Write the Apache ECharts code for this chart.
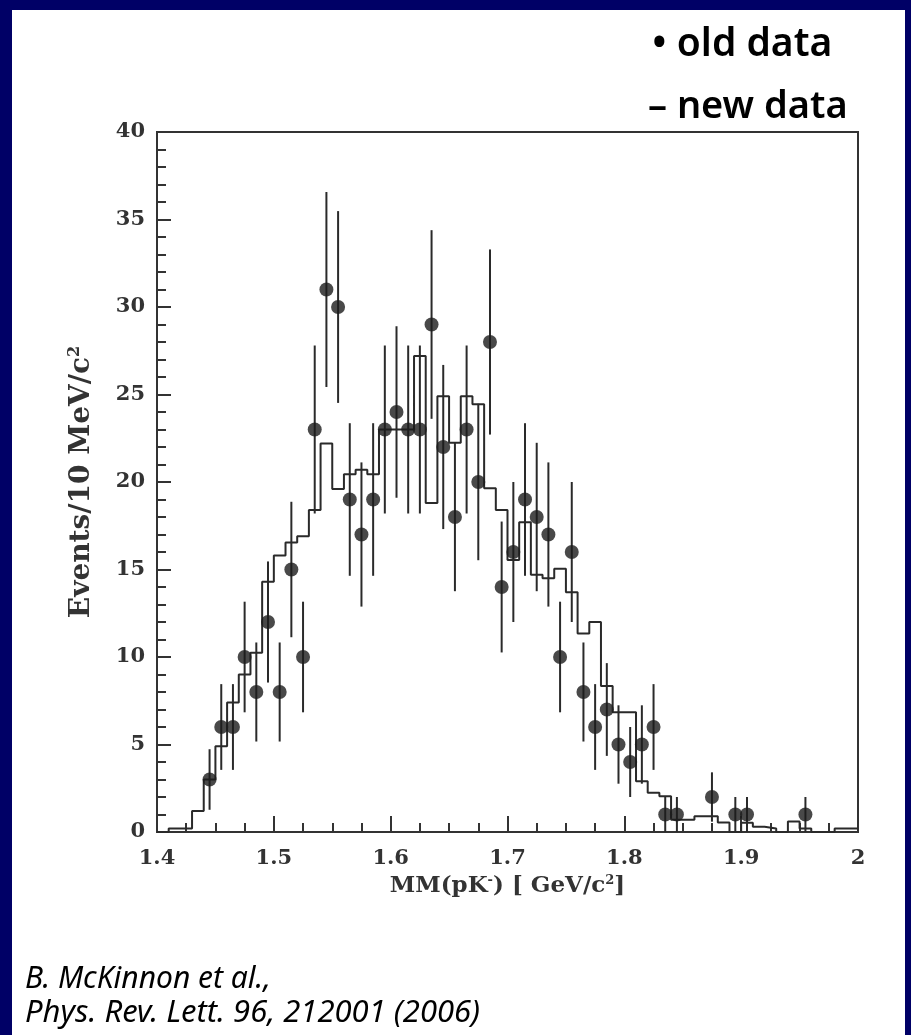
<!DOCTYPE html>
<html><head><meta charset="utf-8">
<script src="https://cdn.jsdelivr.net/npm/echarts@6/dist/echarts.min.js"></script>
<style>html,body{margin:0;padding:0;background:#000066;overflow:hidden}#c{width:911px;height:1035px}</style>
</head><body><div id="c"></div>
<script>
// new data histogram: bin lower edges (10 MeV bins) and contents
const binStart = [1.40,1.41,1.42,1.43,1.44,1.45,1.46,1.47,1.48,1.49,
  1.50,1.51,1.52,1.53,1.54,1.55,1.56,1.57,1.58,1.59,
  1.60,1.61,1.62,1.63,1.64,1.65,1.66,1.67,1.68,1.69,
  1.70,1.71,1.72,1.73,1.74,1.75,1.76,1.77,1.78,1.79,
  1.80,1.81,1.82,1.83,1.84,1.85,1.86,1.87,1.88,1.89,
  1.90,1.91,1.92,1.93,1.94,1.95,1.96,1.97,1.98,1.99];
const binEnd = 2.00;
const newData = [0,0.2,0.2,1.2,3.0,4.9,7.4,9.0,10.25,14.3,
  15.8,16.55,16.9,18.4,22.2,19.6,20.45,20.7,20.45,23.0,
  23.0,23.0,27.2,18.8,24.9,22.25,24.9,24.45,19.65,18.4,
  15.55,17.7,14.7,14.5,15.05,13.7,11.35,12.0,8.35,6.85,
  6.85,2.9,2.25,2.05,0.7,0.7,0.9,0.9,0.55,0,
  0.53,0.3,0.2,0,0.6,0.2,0,0,0.2,0.2];
// old data points (bin centres), counts and error bar half-lengths
const oldX = [1.445,1.455,1.465,1.475,1.485,1.495,1.505,1.515,1.525,1.535,
  1.545,1.555,1.565,1.575,1.585,1.595,1.605,1.615,1.625,1.635,
  1.645,1.655,1.665,1.675,1.685,1.695,1.705,1.715,1.725,1.735,
  1.745,1.755,1.765,1.775,1.785,1.795,1.805,1.815,1.825,1.835,
  1.845,1.875,1.895,1.905,1.955];
const oldY = [3,6,6,10,8,12,8,15,10,23,
  31,30,19,17,19,23,24,23,23,29,
  22,18,23,20,28,14,16,19,18,17,
  10,16,8,6,7,5,4,5,6,1,
  1,2,1,1,1];
const oldErr = [1.73,2.45,2.45,3.16,2.83,3.46,2.83,3.87,3.16,4.8,
  5.57,5.48,4.36,4.12,4.36,4.8,4.9,4.8,4.8,5.39,
  4.69,4.24,4.8,4.47,5.29,3.74,4,4.36,4.24,4.12,
  3.16,4,2.83,2.45,2.65,2.24,2,2.24,2.45,1,
  1,1.41,1,1,1];
const xTickLabels = ['1.4','1.5','1.6','1.7','1.8','1.9','2'];
const yTickLabels = ['0','5','10','15','20','25','30','35','40'];

const ink = '#333333';
const serif = '"DejaVu Serif", "Liberation Serif", serif';

const histPts = binStart.map((x, i) => [x, newData[i]]);
histPts.push([binEnd, newData[newData.length - 1]]);

const chart = echarts.init(document.getElementById('c'), null, {renderer: 'canvas'});
chart.setOption({
  animation: false,
  backgroundColor: '#000066',
  graphic: [
    {type: 'rect', z: -10, shape: {x: 12, y: 10, width: 893, height: 1025}, style: {fill: '#ffffff'}},
    {type: 'text', left: 652, top: 25, style: {text: '\u2022 old data', font: '600 39px "Noto Sans", sans-serif', fill: '#000'}},
    {type: 'text', left: 648, top: 88, style: {text: '\u2013 new data', font: '600 38px "Noto Sans", sans-serif', fill: '#000'}},
    {type: 'text', left: 25, top: 964, style: {text: 'B. McKinnon et al.,', font: 'italic 30px "Noto Sans", sans-serif', fill: '#000'}},
    {type: 'text', left: 25, top: 998, style: {text: 'Phys. Rev. Lett. 96, 212001 (2006)', font: 'italic 31px "Noto Sans", sans-serif', fill: '#000'}}
  ],
  grid: {left: 157, top: 132, right: 53, bottom: 203, show: true, borderColor: ink, borderWidth: 2, backgroundColor: '#fff'},
  xAxis: {
    type: 'value', min: 1.4, max: 2.0, interval: 0.1,
    axisLine: {lineStyle: {color: ink, width: 2}},
    axisTick: {inside: true, length: 16, lineStyle: {color: ink, width: 2}},
    minorTick: {show: true, splitNumber: 4, length: 9, lineStyle: {color: ink, width: 2}},
    splitLine: {show: false},
    axisLabel: {color: ink, fontFamily: serif, fontWeight: 'bold', fontSize: 21, margin: 16,
      formatter: v => xTickLabels[Math.round((v - 1.4) / 0.1)] ?? ''},
    name: 'MM(pK{sup|-}) [ GeV/c{sup|2}]', nameLocation: 'middle', nameGap: 41,
    nameTextStyle: {color: ink, fontFamily: serif, fontWeight: 'bold', fontSize: 23,
      rich: {sup: {fontSize: 13, fontFamily: serif, fontWeight: 'bold', color: ink, verticalAlign: 'top', lineHeight: 24}}}
  },
  yAxis: {
    type: 'value', min: 0, max: 40, interval: 5,
    axisLine: {lineStyle: {color: ink, width: 2}},
    axisTick: {inside: true, length: 14, lineStyle: {color: ink, width: 2}},
    minorTick: {show: true, splitNumber: 5, length: 9, lineStyle: {color: ink, width: 2}},
    splitLine: {show: false},
    axisLabel: {color: ink, fontFamily: serif, fontWeight: 'bold', fontSize: 21, margin: 12,
      formatter: v => yTickLabels[Math.round(v / 5)] ?? ''},
    name: 'Events/10 MeV/c{sup|2}', nameLocation: 'middle', nameGap: 61, nameRotate: 90,
    nameTextStyle: {color: ink, fontFamily: serif, fontWeight: 'bold', fontSize: 28,
      rich: {sup: {fontSize: 16, fontFamily: serif, fontWeight: 'bold', color: ink, verticalAlign: 'top', lineHeight: 29}}}
  },
  series: [
    {
      name: 'new data', type: 'line', step: 'end', data: histPts, showSymbol: false,
      lineStyle: {color: '#2a2a2a', width: 2}, z: 3
    },
    {
      name: 'old data err', type: 'custom', z: 4,
      data: oldX.map((x, i) => [x, oldY[i], oldErr[i]]),
      renderItem: (params, api) => {
        const x = api.value(0), y = api.value(1), e = api.value(2);
        const p1 = api.coord([x, Math.max(0, y - e)]);
        const p2 = api.coord([x, y + e]);
        return {type: 'line', shape: {x1: p1[0], y1: p1[1], x2: p2[0], y2: p2[1]},
          style: {stroke: '#2a2a2a', lineWidth: 2}};
      }
    },
    {
      name: 'old data', type: 'scatter', z: 5,
      data: oldX.map((x, i) => [x, oldY[i]]),
      symbol: 'circle', symbolSize: 14, itemStyle: {color: '#1c1c1c'}
    }
  ]
});
</script></body></html>
